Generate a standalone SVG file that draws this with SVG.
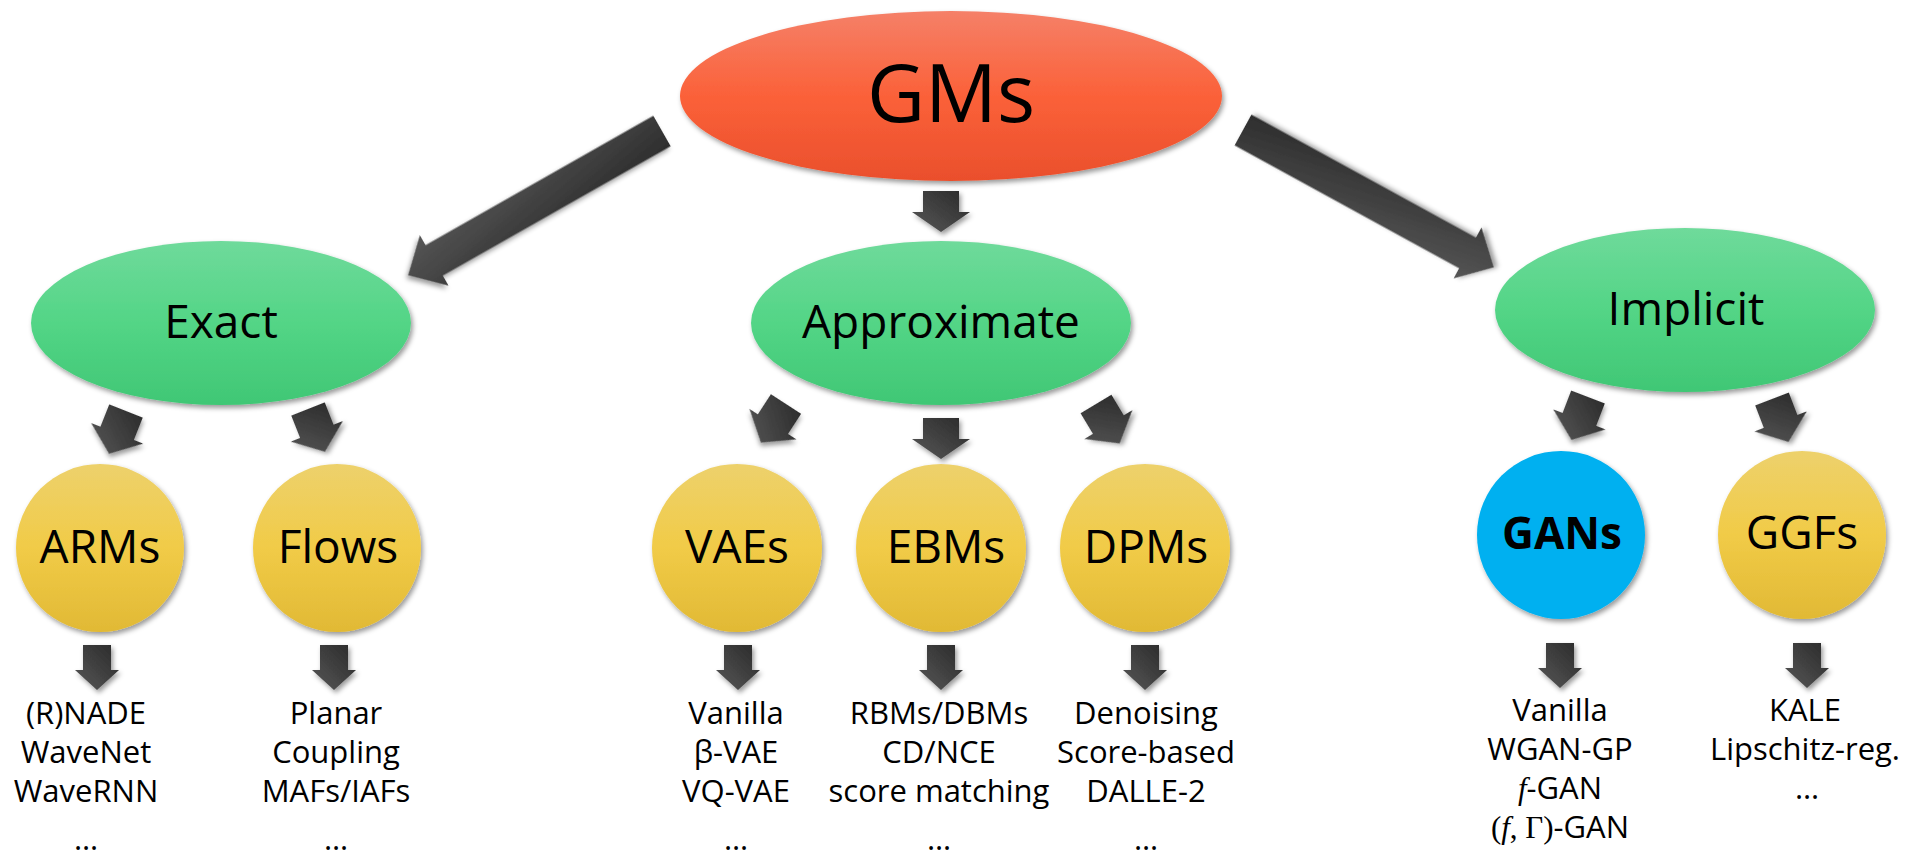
<svg xmlns="http://www.w3.org/2000/svg" xmlns:xlink="http://www.w3.org/1999/xlink" width="1926" height="862" viewBox="0 0 1926 862">
<defs>
<style>
text{font-family:"Open Sans","Noto Sans",sans-serif;text-anchor:middle;fill:#000}
.top{font-size:80px}
.l2{font-size:46px}
.l3{font-size:46px}
.bold{font-weight:bold;font-size:44px}
.lst{font-size:31px}
.m{font-family:"Liberation Serif","DejaVu Serif",serif}
.mi{font-family:"Liberation Serif","DejaVu Serif",serif;font-style:italic}
.arrow{fill:url(#ag);filter:url(#sh)}
</style>
<filter id="sh" x="-20%" y="-20%" width="150%" height="150%">
<feDropShadow dx="2" dy="3" stdDeviation="2.5" flood-color="#000" flood-opacity="0.4"/>
</filter>
<linearGradient id="gRed" x1="0" y1="0" x2="0" y2="1">
<stop offset="0" stop-color="#f58068"/>
<stop offset="0.5" stop-color="#fb6139"/>
<stop offset="1" stop-color="#ea4f2c"/>
</linearGradient>
<linearGradient id="gGreen" x1="0" y1="0" x2="0" y2="1">
<stop offset="0" stop-color="#6fda9b"/>
<stop offset="0.5" stop-color="#53d586"/>
<stop offset="1" stop-color="#40c775"/>
</linearGradient>
<linearGradient id="gYellow" x1="0" y1="0" x2="0" y2="1">
<stop offset="0" stop-color="#edd16c"/>
<stop offset="0.5" stop-color="#f1cb47"/>
<stop offset="1" stop-color="#e1b935"/>
</linearGradient>
<linearGradient id="ag" x1="1" y1="0" x2="0" y2="1">
<stop offset="0" stop-color="#292929"/>
<stop offset="1" stop-color="#585858"/>
</linearGradient>
<polygon id="aMed" points="-18,0 18,0 18,21 29,21 0,41 -29,21 -18,21"/>
<polygon id="aTilt" points="-18,0 18,0 18,24 28,24 0,46 -28,24 -18,24"/>
<polygon id="aSmall" points="-14,0 14,0 14,25 22,25 0,45 -22,25 -14,25"/>
</defs>
<rect width="1926" height="862" fill="#fff"/>

<g id="connectors">
<polygon class="arrow" transform="translate(662,131) rotate(60.4)" points="-17.5,0 17.5,0 17.5,262 29,262 0,292 -29,262 -17.5,262"/>
<polygon class="arrow" transform="translate(1243,130) rotate(-61.3)" points="-17.5,0 17.5,0 17.5,256 29,256 0,286 -29,256 -17.5,256"/>
<use class="arrow" xlink:href="#aMed" href="#aMed" transform="translate(941,191)"/>
<use class="arrow" xlink:href="#aTilt" href="#aTilt" transform="translate(126,411) rotate(21.6)"/>
<use class="arrow" xlink:href="#aTilt" href="#aTilt" transform="translate(308,409) rotate(-21.6)"/>
<use class="arrow" xlink:href="#aTilt" href="#aTilt" transform="translate(786,404) rotate(33)"/>
<use class="arrow" xlink:href="#aMed" href="#aMed" transform="translate(941,418)"/>
<use class="arrow" xlink:href="#aTilt" href="#aTilt" transform="translate(1096,404) rotate(-31)"/>
<use class="arrow" xlink:href="#aTilt" href="#aTilt" transform="translate(1588,397) rotate(21)"/>
<use class="arrow" xlink:href="#aTilt" href="#aTilt" transform="translate(1772,399) rotate(-21)"/>
<use class="arrow" xlink:href="#aSmall" href="#aSmall" transform="translate(97,645)"/>
<use class="arrow" xlink:href="#aSmall" href="#aSmall" transform="translate(334,645)"/>
<use class="arrow" xlink:href="#aSmall" href="#aSmall" transform="translate(738,645)"/>
<use class="arrow" xlink:href="#aSmall" href="#aSmall" transform="translate(941,645)"/>
<use class="arrow" xlink:href="#aSmall" href="#aSmall" transform="translate(1145,645)"/>
<use class="arrow" xlink:href="#aSmall" href="#aSmall" transform="translate(1560,643)"/>
<use class="arrow" xlink:href="#aSmall" href="#aSmall" transform="translate(1807,643)"/>
</g>

<g id="gms">
<ellipse cx="951" cy="96" rx="271" ry="85" fill="url(#gRed)" filter="url(#sh)"/>
<text class="top" x="951" y="122">GMs</text>
</g>

<g id="exact">
<ellipse cx="221" cy="323" rx="190" ry="82" fill="url(#gGreen)" filter="url(#sh)"/>
<text class="l2" x="221" y="338">Exact</text>
</g>
<g id="approximate">
<ellipse cx="941" cy="323" rx="190" ry="82" fill="url(#gGreen)" filter="url(#sh)"/>
<text class="l2" x="941" y="338">Approximate</text>
</g>
<g id="implicit">
<ellipse cx="1685" cy="310" rx="190" ry="82" fill="url(#gGreen)" filter="url(#sh)"/>
<text class="l2" x="1686" y="325">Implicit</text>
</g>

<g id="arms">
<ellipse cx="100" cy="548" rx="84" ry="84" fill="url(#gYellow)" filter="url(#sh)"/>
<text class="l3" x="100" y="563">ARMs</text>
</g>
<g id="flows">
<ellipse cx="337" cy="548" rx="84" ry="84" fill="url(#gYellow)" filter="url(#sh)"/>
<text class="l3" x="338" y="563">Flows</text>
</g>
<g id="vaes">
<ellipse cx="737" cy="548" rx="85" ry="84" fill="url(#gYellow)" filter="url(#sh)"/>
<text class="l3" x="737" y="563">VAEs</text>
</g>
<g id="ebms">
<ellipse cx="941" cy="548" rx="85" ry="84" fill="url(#gYellow)" filter="url(#sh)"/>
<text class="l3" x="946" y="563">EBMs</text>
</g>
<g id="dpms">
<ellipse cx="1145" cy="548" rx="85" ry="84" fill="url(#gYellow)" filter="url(#sh)"/>
<text class="l3" x="1146" y="563">DPMs</text>
</g>
<g id="gans">
<ellipse cx="1561" cy="535" rx="84" ry="84" fill="#00b0f0" filter="url(#sh)"/>
<text class="bold" x="1562" y="549">GANs</text>
</g>
<g id="ggfs">
<ellipse cx="1802" cy="535" rx="84" ry="84" fill="url(#gYellow)" filter="url(#sh)"/>
<text class="l3" x="1802" y="549">GGFs</text>
</g>

<g id="arms-list">
<text class="lst" x="86" y="724">(R)NADE</text>
<text class="lst" x="86" y="763">WaveNet</text>
<text class="lst" x="86" y="802">WaveRNN</text>
<text class="lst" x="86" y="850">…</text>
</g>
<g id="flows-list">
<text class="lst" x="336" y="724">Planar</text>
<text class="lst" x="336" y="763">Coupling</text>
<text class="lst" x="336" y="802">MAFs/IAFs</text>
<text class="lst" x="336" y="850">…</text>
</g>
<g id="vaes-list">
<text class="lst" x="736" y="724">Vanilla</text>
<text class="lst" x="736" y="763">β-VAE</text>
<text class="lst" x="736" y="802">VQ-VAE</text>
<text class="lst" x="736" y="850">…</text>
</g>
<g id="ebms-list">
<text class="lst" x="939" y="724">RBMs/DBMs</text>
<text class="lst" x="939" y="763">CD/NCE</text>
<text class="lst" x="939" y="802">score matching</text>
<text class="lst" x="939" y="850">…</text>
</g>
<g id="dpms-list">
<text class="lst" x="1146" y="724">Denoising</text>
<text class="lst" x="1146" y="763">Score-based</text>
<text class="lst" x="1146" y="802">DALLE-2</text>
<text class="lst" x="1146" y="850">…</text>
</g>
<g id="gans-list">
<text class="lst" x="1560" y="721">Vanilla</text>
<text class="lst" x="1560" y="760">WGAN-GP</text>
<text class="lst" x="1560" y="799"><tspan class="mi">f</tspan>-GAN</text>
<text class="lst" x="1560" y="838"><tspan class="m">(</tspan><tspan class="mi">f</tspan><tspan class="m">, Γ)</tspan>-GAN</text>
</g>
<g id="ggfs-list">
<text class="lst" x="1805" y="721">KALE</text>
<text class="lst" x="1805" y="760">Lipschitz-reg.</text>
<text class="lst" x="1807" y="799">…</text>
</g>
</svg>
